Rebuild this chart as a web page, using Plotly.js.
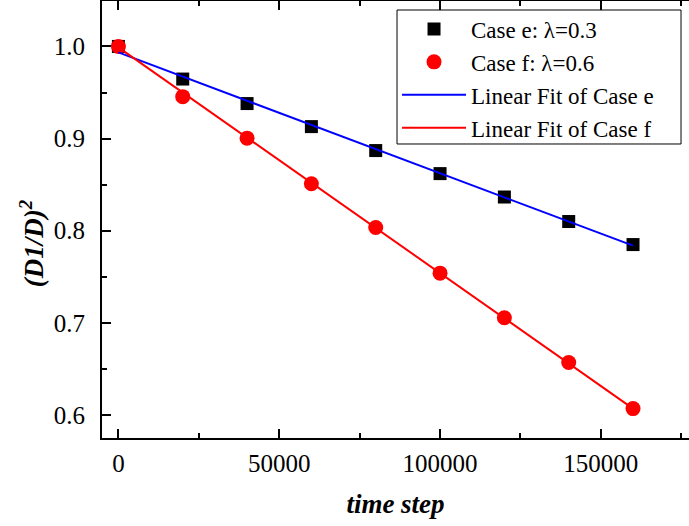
<!DOCTYPE html>
<html>
<head>
<meta charset="utf-8">
<script src="https://cdn.plot.ly/plotly-3.0.1.min.js"></script>
<style>html,body{margin:0;padding:0;background:#fff;}#chart{width:689px;height:526px;}</style>
</head>
<body>
<div id="chart"></div>
<script>
// ---- data ----
const timeSteps = [0, 20000, 40000, 60000, 80000, 100000, 120000, 140000, 160000];
const caseE = [1.000, 0.9646, 0.9380, 0.9130, 0.8870, 0.8620, 0.8366, 0.8100, 0.7850];
const caseF = [1.000, 0.9455, 0.9005, 0.8510, 0.8035, 0.7540, 0.7056, 0.6570, 0.6070];
const fitX = [0, 160000];
const fitE = [0.9935, 0.7838];
const fitF = [0.9990, 0.6070];
const seriesNames = ['Case e: \u03bb=0.3', 'Case f: \u03bb=0.6', 'Linear Fit of Case e', 'Linear Fit of Case f'];
const xTitle = 'time step';
const yTitle = '(D1/D)<sup>2</sup>';

const FONT = 'Liberation Serif';

const traces = [
  {x: timeSteps, y: caseE, name: seriesNames[0], mode: 'markers', type: 'scatter',
   marker: {symbol: 'square', size: 13, color: '#000000'}},
  {x: timeSteps, y: caseF, name: seriesNames[1], mode: 'markers', type: 'scatter',
   marker: {symbol: 'circle', size: 15, color: '#ff0000'}},
  {x: fitX, y: fitE, name: seriesNames[2], mode: 'lines', type: 'scatter',
   line: {color: '#0000ff', width: 2}},
  {x: fitX, y: fitF, name: seriesNames[3], mode: 'lines', type: 'scatter',
   line: {color: '#ff0000', width: 2}}
];

const layout = {
  width: 689, height: 526,
  margin: {l: 102, r: 0, t: 1, b: 88},
  paper_bgcolor: '#ffffff', plot_bgcolor: '#ffffff',
  font: {family: FONT, size: 25, color: '#000000'},
  showlegend: true,
  legend: {
    x: 0.5026, y: 0.9851, xanchor: 'left', yanchor: 'top',
    bgcolor: 'rgba(0,0,0,0)', borderwidth: 0,
    font: {family: FONT, size: 23, color: '#000000'},
    itemwidth: 64, tracegroupgap: 0
  },
  // legend frame (the reference's box is wider than the entries)
  shapes: [
    {type: 'rect', xref: 'paper', yref: 'paper', x0: 0.5026, x1: 0.9864, y0: 0.6728, y1: 0.9794,
     line: {color: '#000000', width: 1}, fillcolor: '#ffffff', layer: 'above'}
  ],
  xaxis: {
    range: [-5100, 177400],
    tick0: 0, dtick: 50000, tickformat: 'd',
    ticks: 'inside', ticklen: 9, tickwidth: 2, tickcolor: '#000000',
    minor: {dtick: 25000, ticks: 'inside', ticklen: 5, tickwidth: 2, tickcolor: '#000000', showgrid: false},
    showline: true, linecolor: '#000000', linewidth: 2, mirror: 'ticks',
    showgrid: false, zeroline: false,
    tickfont: {family: FONT, size: 25, color: '#000000'},
    ticklabelstandoff: 2,
    title: {text: xTitle, font: {family: FONT, size: 27, color: '#000000', weight: 'bold', style: 'italic'}, standoff: 18}
  },
  yaxis: {
    range: [0.5751, 1.0493],
    tick0: 0.6, dtick: 0.1, tickformat: '.1f',
    ticks: 'inside', ticklen: 9, tickwidth: 2, tickcolor: '#000000',
    minor: {dtick: 0.05, ticks: 'inside', ticklen: 5, tickwidth: 2, tickcolor: '#000000', showgrid: false},
    showline: true, linecolor: '#000000', linewidth: 2, mirror: false,
    showgrid: false, zeroline: false,
    tickfont: {family: FONT, size: 25, color: '#000000'},
    ticklabelstandoff: 10
  },
  annotations: [
    {text: yTitle, xref: 'paper', yref: 'paper', x: -0.119, y: 0.446,
     xanchor: 'center', yanchor: 'middle', textangle: -90, showarrow: false,
     font: {family: FONT, size: 27, color: '#000000', weight: 'bold', style: 'italic'}}
  ]
};

Plotly.newPlot('chart', traces, layout, {displayModeBar: false, staticPlot: true});
</script>
</body>
</html>
